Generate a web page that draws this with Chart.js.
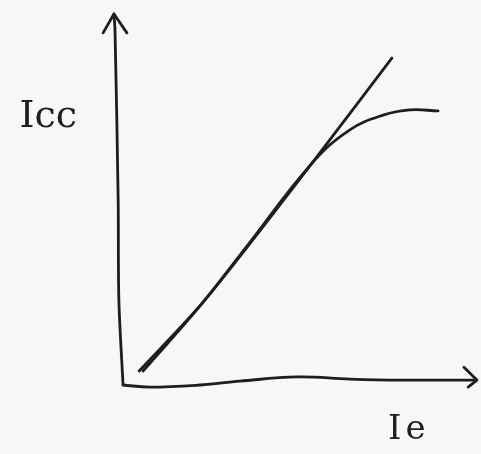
<!DOCTYPE html>
<html lang="en">
<head>
    <meta charset="UTF-8">
    <title>Icc vs Ie</title>
    <script src="https://cdn.jsdelivr.net/npm/chart.js"></script>
    <style>
        html, body {
            margin: 0;
            padding: 0;
            background-color: #f7f7f7;
        }
        #wrap {
            width: 481px;
            height: 454px;
        }
    </style>
</head>
<body>
    <div id="wrap">
        <canvas id="sketch"></canvas>
    </div>

    <script>
        // axis titles
        const xLabel = 'Ie';
        const yLabel = 'Icc';

        // hand drawn axes (units: origin at the corner)
        const yAxisX = [0.03, -0.09, -0.11, -0.20, -0.23];
        const yAxisY = [0.00, 2.43, 5.29, 10.14, 10.60];
        const yArrowX = [-0.54, -0.23, 0.14];
        const yArrowY = [10.06, 10.60, 10.06];

        const xAxisX = [0.03, 0.80, 2.23, 3.37, 5.00, 6.51, 7.94, 10.14];
        const xAxisY = [0.00, -0.06, 0.00, 0.11, 0.23, 0.17, 0.14, 0.14];
        const xArrowX = [9.77, 10.14, 9.89];
        const xArrowY = [0.51, 0.14, -0.06];

        // linear approximation
        const lineX = [0.49, 2.37, 5.43, 7.71];
        const lineY = [0.40, 2.43, 6.34, 9.34];

        // saturating characteristic
        const curveX = [0.60, 2.23, 3.51, 5.43, 6.51, 7.46, 8.23, 9.03];
        const curveY = [0.40, 2.26, 3.89, 6.34, 7.29, 7.71, 7.86, 7.83];

        const ink = '#1e1e1e';

        function pts(xs, ys) {
            return xs.map((x, i) => ({ x: x, y: ys[i] }));
        }

        function stroke(xs, ys, tension) {
            return {
                data: pts(xs, ys),
                showLine: true,
                borderColor: ink,
                borderWidth: 2.8,
                pointRadius: 0,
                tension: tension,
                borderCapStyle: 'round',
                borderJoinStyle: 'round'
            };
        }

        // draws the two axis titles as text
        const labelPlugin = {
            id: 'axisText',
            afterDatasetsDraw(chart) {
                const ctx = chart.ctx;
                const x = chart.scales.x;
                const y = chart.scales.y;
                ctx.save();
                ctx.fillStyle = ink;
                ctx.textBaseline = 'alphabetic';
                ctx.textAlign = 'left';
                ctx.font = '38px "DejaVu Serif"';
                ctx.fillText(yLabel, x.getPixelForValue(-2.93), y.getPixelForValue(7.37));
                ctx.font = '34px "DejaVu Serif"';
                ctx.letterSpacing = '4px';
                ctx.fillText(xLabel, x.getPixelForValue(7.6), y.getPixelForValue(-1.55));
                ctx.restore();
            }
        };

        new Chart(document.getElementById('sketch'), {
            type: 'scatter',
            data: {
                datasets: [
                    stroke(yAxisX, yAxisY, 0.3),
                    stroke(yArrowX, yArrowY, 0),
                    stroke(xAxisX, xAxisY, 0.4),
                    stroke(xArrowX, xArrowY, 0),
                    stroke(lineX, lineY, 0.3),
                    stroke(curveX, curveY, 0.4)
                ]
            },
            options: {
                responsive: true,
                maintainAspectRatio: false,
                animation: false,
                layout: { padding: 0 },
                plugins: {
                    legend: { display: false },
                    tooltip: { enabled: false }
                },
                scales: {
                    x: { type: 'linear', display: false, min: -3.486, max: 10.257 },
                    y: { type: 'linear', display: false, min: -1.971, max: 11.0 }
                }
            },
            plugins: [labelPlugin]
        });
    </script>
</body>
</html>
